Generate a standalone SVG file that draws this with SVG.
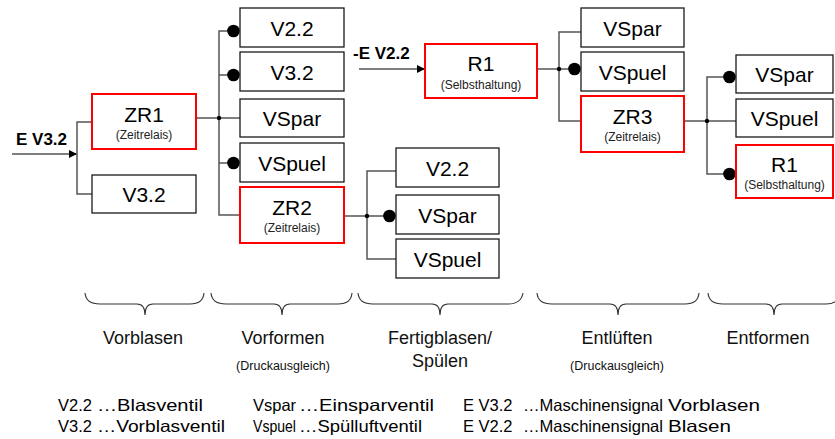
<svg xmlns="http://www.w3.org/2000/svg" width="835" height="439" viewBox="0 0 835 439">
  <style>
    .box { fill: #fff; stroke: #1a1a1a; stroke-width: 1.3; }
    .rbox { fill: #fff; stroke: #ff0000; stroke-width: 2; }
    .t { font-family: "Liberation Sans", Arial, sans-serif; font-size: 21px; fill: #000; text-anchor: middle; }
    .s { font-family: "Liberation Sans", Arial, sans-serif; font-size: 12px; fill: #222; text-anchor: middle; }
    .sig { font-family: "Liberation Sans", Arial, sans-serif; font-size: 17px; font-weight: bold; fill: #000; }
    .stage { font-family: "Liberation Sans", Arial, sans-serif; font-size: 18px; fill: #111; text-anchor: middle; }
    .note { font-family: "Liberation Sans", Arial, sans-serif; font-size: 12.5px; fill: #111; text-anchor: middle; }
    .leg { font-family: "Liberation Sans", Arial, sans-serif; font-size: 16.5px; fill: #000; }
    .wire { fill: none; stroke: #555; stroke-width: 1.5; }
    .brace { fill: none; stroke: #333; stroke-width: 1.1; }
    .dot { fill: #000; }
  </style>
  <defs>
    <marker id="arrow" viewBox="0 0 10 10" refX="10" refY="5" markerWidth="8" markerHeight="8" markerUnits="userSpaceOnUse" orient="auto">
      <path d="M0,0 L10,5 L0,10 z" fill="#000"/>
    </marker>
  </defs>

  <!-- connectors -->
  <g id="connectors">
    <!-- input E V3.2 -->
    <line class="wire" x1="12" y1="154" x2="77" y2="154" stroke="#000" marker-end="url(#arrow)"/>
    <path class="wire" d="M92,122 H77 V194 H92"/>
    <!-- ZR1 outputs -->
    <path class="wire" d="M196,118 H240"/>
    <path class="wire" d="M233,31 H219 V215 H240"/>
    <path class="wire" d="M219,75 H233"/>
    <path class="wire" d="M219,163 H233"/>
    <circle class="dot" cx="219" cy="118" r="2.2"/>
    <circle class="dot" cx="233.5" cy="31" r="6.3"/>
    <circle class="dot" cx="233.5" cy="75" r="6.3"/>
    <circle class="dot" cx="233.5" cy="163" r="6.3"/>
    <!-- ZR2 outputs -->
    <path class="wire" d="M344,216 H389"/>
    <path class="wire" d="M396,171 H367 V259 H396"/>
    <circle class="dot" cx="367" cy="216" r="2.2"/>
    <circle class="dot" cx="389.5" cy="216" r="6.3"/>
    <!-- input -E V2.2 -->
    <line class="wire" x1="359" y1="69" x2="425" y2="69" stroke="#000" marker-end="url(#arrow)"/>
    <!-- R1 outputs -->
    <path class="wire" d="M537,69 H574"/>
    <path class="wire" d="M581,32 H559 V121 H581"/>
    <circle class="dot" cx="559" cy="69" r="2.2"/>
    <circle class="dot" cx="574.5" cy="69" r="6.3"/>
    <!-- ZR3 outputs -->
    <path class="wire" d="M684,121 H736"/>
    <path class="wire" d="M729,77 H707 V174 H729"/>
    <circle class="dot" cx="707" cy="121" r="2.2"/>
    <circle class="dot" cx="729.5" cy="77" r="6.3"/>
    <circle class="dot" cx="729.5" cy="174" r="6.3"/>
  </g>

  <!-- signal labels -->
  <text class="sig" x="16" y="145">E V3.2</text>
  <text class="sig" x="353" y="59">-E V2.2</text>

  <!-- Vorblasen -->
  <g id="zr1">
    <rect class="rbox" x="92" y="94" width="104" height="55"/>
    <text class="t" x="144" y="122">ZR1</text>
    <text class="s" x="144" y="139">(Zeitrelais)</text>
  </g>
  <g id="v32a">
    <rect class="box" x="92" y="175" width="104" height="38"/>
    <text class="t" x="144" y="202">V3.2</text>
  </g>

  <!-- Vorformen -->
  <g id="v22a">
    <rect class="box" x="240" y="8" width="104" height="39"/>
    <text class="t" x="292" y="36">V2.2</text>
  </g>
  <g id="v32b">
    <rect class="box" x="240" y="52" width="104" height="39"/>
    <text class="t" x="292" y="80">V3.2</text>
  </g>
  <g id="vspar-a">
    <rect class="box" x="240" y="99" width="104" height="38"/>
    <text class="t" x="292" y="126">VSpar</text>
  </g>
  <g id="vspuel-a">
    <rect class="box" x="240" y="143" width="104" height="39"/>
    <text class="t" x="292" y="171">VSpuel</text>
  </g>
  <g id="zr2">
    <rect class="rbox" x="240" y="187" width="104" height="56"/>
    <text class="t" x="292" y="215">ZR2</text>
    <text class="s" x="292" y="232">(Zeitrelais)</text>
  </g>

  <!-- Fertigblasen / Spülen -->
  <g id="v22b">
    <rect class="box" x="396" y="148" width="103" height="39"/>
    <text class="t" x="447.5" y="176">V2.2</text>
  </g>
  <g id="vspar-b">
    <rect class="box" x="396" y="195" width="103" height="39"/>
    <text class="t" x="447.5" y="223">VSpar</text>
  </g>
  <g id="vspuel-b">
    <rect class="box" x="396" y="239" width="103" height="39"/>
    <text class="t" x="447.5" y="267">VSpuel</text>
  </g>

  <!-- Entlüften -->
  <g id="r1a">
    <rect class="rbox" x="425" y="44" width="112" height="54"/>
    <text class="t" x="481" y="71">R1</text>
    <text class="s" x="481" y="89">(Selbsthaltung)</text>
  </g>
  <g id="vspar-c">
    <rect class="box" x="581" y="8" width="103" height="39"/>
    <text class="t" x="632.5" y="36">VSpar</text>
  </g>
  <g id="vspuel-c">
    <rect class="box" x="581" y="52" width="103" height="39"/>
    <text class="t" x="632.5" y="80">VSpuel</text>
  </g>
  <g id="zr3">
    <rect class="rbox" x="581" y="96" width="103" height="56"/>
    <text class="t" x="632.5" y="124">ZR3</text>
    <text class="s" x="632.5" y="141">(Zeitrelais)</text>
  </g>

  <!-- Entformen -->
  <g id="vspar-d">
    <rect class="box" x="736" y="55" width="97" height="38"/>
    <text class="t" x="784.5" y="82">VSpar</text>
  </g>
  <g id="vspuel-d">
    <rect class="box" x="736" y="99" width="97" height="38"/>
    <text class="t" x="784.5" y="126">VSpuel</text>
  </g>
  <g id="r1b">
    <rect class="rbox" x="736" y="145" width="97" height="53"/>
    <text class="t" x="784.5" y="172">R1</text>
    <text class="s" x="784.5" y="189">(Selbsthaltung)</text>
  </g>

  <!-- phase braces -->
  <g id="braces">
    <path class="brace" d="M85,293 Q86,304 100,304 H137 Q145,304 145,315 Q145,304 153,304 H190 Q203,304 204,293"/>
    <path class="brace" d="M211,293 Q212,304 226,304 H274 Q282,304 282,315 Q282,304 290,304 H338 Q351,304 352,293"/>
    <path class="brace" d="M358,293 Q359,304 373,304 H432 Q440,304 440,315 Q440,304 448,304 H508 Q521,304 523,293"/>
    <path class="brace" d="M537,293 Q538,304 552,304 H610 Q618,304 618,315 Q618,304 626,304 H685 Q698,304 699,293"/>
    <path class="brace" d="M708,293 Q709,304 723,304 H766 Q774,304 774,315 Q774,304 782,304 H826 Q839,304 840,293"/>
  </g>

  <!-- phase names -->
  <text class="stage" x="143" y="344">Vorblasen</text>
  <text class="stage" x="283" y="344">Vorformen</text>
  <text class="note" x="283" y="370">(Druckausgleich)</text>
  <text class="stage" x="440" y="344">Fertigblasen/</text>
  <text class="stage" x="440" y="367">Spülen</text>
  <text class="stage" x="617" y="344">Entlüften</text>
  <text class="note" x="617" y="370">(Druckausgleich)</text>
  <text class="stage" x="768" y="344">Entformen</text>

  <!-- legend -->
  <g id="legend">
    <text class="leg" x="58" y="411">V2.2</text>
    <text class="leg" x="97" y="411" textLength="106" lengthAdjust="spacingAndGlyphs">…Blasventil</text>
    <text class="leg" x="58" y="432">V3.2</text>
    <text class="leg" x="97" y="432" textLength="128" lengthAdjust="spacingAndGlyphs">…Vorblasventil</text>
    <text class="leg" x="253" y="411">Vspar</text>
    <text class="leg" x="299" y="411" textLength="135" lengthAdjust="spacingAndGlyphs">…Einsparventil</text>
    <text class="leg" x="253" y="432" textLength="43" lengthAdjust="spacingAndGlyphs">Vspuel</text>
    <text class="leg" x="299" y="432" textLength="123" lengthAdjust="spacingAndGlyphs">…Spülluftventil</text>
    <text class="leg" x="463" y="411">E V3.2</text>
    <text class="leg" x="523" y="411" textLength="140" lengthAdjust="spacingAndGlyphs">…Maschinensignal</text>
    <text class="leg" x="668" y="411" textLength="92" lengthAdjust="spacingAndGlyphs">Vorblasen</text>
    <text class="leg" x="463" y="432">E V2.2</text>
    <text class="leg" x="523" y="432" textLength="140" lengthAdjust="spacingAndGlyphs">…Maschinensignal</text>
    <text class="leg" x="668" y="432" textLength="63" lengthAdjust="spacingAndGlyphs">Blasen</text>
  </g>
</svg>
